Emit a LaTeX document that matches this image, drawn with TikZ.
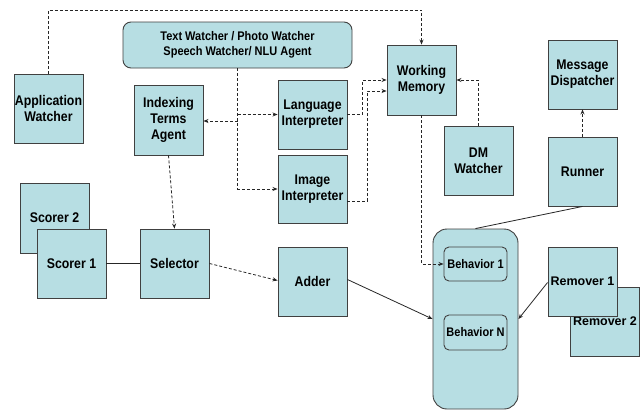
\documentclass[tikz,border=0pt]{standalone}
\usepackage{fontspec}
\setmainfont{Liberation Sans}[FakeStretch=0.88]
\newfontfamily\widefont{Liberation Sans}
\usetikzlibrary{arrows.meta,calc}
\definecolor{boxfill}{RGB}{183,222,227}
\definecolor{boxedge}{RGB}{64,64,64}
\begin{document}
\begin{tikzpicture}[x=1pt,y=-1pt,
  box/.style={draw=boxedge,fill=boxfill,line width=0.9pt,inner sep=0pt,align=center,
    minimum width=69pt,minimum height=69pt,font=\bfseries\fontsize{14}{16}\selectfont},
  rbox/.style={box,rounded corners=#1},
  dl/.style={draw=black!85,line width=0.8pt,dash pattern=on 3pt off 2pt},
  sl/.style={draw=black!85,line width=0.8pt},
  tip/.style={-{Stealth[length=5pt,width=4pt]}}]
\path[fill=white] (0,0) rectangle (644,410);
\useasboundingbox (0,0) rectangle (644,410);
% nodes
\node[rbox=8pt,minimum width=229pt,minimum height=46pt,font=\bfseries\fontsize{12.5}{15}\selectfont]
  (top) at (237.5,45) {Text Watcher / Photo Watcher\\Speech Watcher/ NLU Agent};
\node[box] (aw) at (48.5,108.5) {Application\\Watcher};
\node[box,minimum height=70pt] (ita) at (168.5,120) {Indexing\\Terms\\Agent};
\node[box] (li) at (312.5,114.5) {Language\\Interpreter};
\node[box,minimum height=68pt] (ii) at (312.5,189) {Image\\Interpreter};
\node[box,minimum height=70pt] (wm) at (421.5,80) {Working\\Memory};
\node[box] (dm) at (478.5,160.5) {DM\\Watcher};
\node[box] (md) at (582.5,74.5) {Message\\Dispatcher};
\node[box] (run) at (582.5,171.5) {Runner};
\node[box,minimum height=70pt] (sc2) at (54.5,218) {Scorer 2};
\node[box] (sc1) at (71.5,263.5) {Scorer 1};
\node[box] (sel) at (174.5,263.5) {Selector};
\node[box] (add) at (312.5,281.5) {Adder};
\node[rbox=14pt,minimum width=85pt,minimum height=180pt] (cont) at (475.5,319) {};
\node[rbox=5pt,minimum width=63pt,minimum height=34pt,font=\bfseries\fontsize{12.5}{14}\selectfont] (b1) at (475.5,264) {Behavior 1};
\node[rbox=5pt,minimum width=63pt,minimum height=35pt,font=\bfseries\fontsize{12.5}{14}\selectfont] (bn) at (475.5,332.5) {Behavior N};
\node[box,font=\widefont\bfseries\fontsize{12.5}{16}\selectfont] (rm2) at (605,321.5) {Remover 2};
\node[box,font=\widefont\bfseries\fontsize{12.5}{16}\selectfont] (rm1) at (582.5,281.5) {Remover 1};
% connectors
\coordinate (t1) at (48.5,10);
\coordinate (itaIn) at ([yshift=-1pt]ita.east);
\draw[dl,tip] (aw.north) -- (t1) -| (wm.north);
\draw[dl,tip] (top.south) |- (ii.west);
\draw[dl,tip] (top.south |- li.west) -- (li.west);
\draw[dl,tip] (top.south |- itaIn) -- (itaIn);
\draw[dl,tip] (li.east) -- ++(15,0) |- (wm.west);
\draw[dl,tip] ([yshift=-12pt]ii.east) -- ++(20,0) |- ([yshift=-11pt]wm.west);
\draw[dl,tip] (dm.north) |- (wm.east);
\draw[dl,tip] (wm.south) |- (b1.west);
\draw[dl,tip] (run.north) -- (md.south);
\draw[sl] (run.south) -- (cont.north);
\draw[dl,tip] (ita.south) -- (sel.north);
\draw[sl] (sc1.east) -- (sel.west);
\draw[dl,tip] (sel.east) -- ([yshift=1pt]add.west);
\draw[sl,tip] ([yshift=2pt]add.east) -- (cont.west);
\draw[sl,tip] ([yshift=-1pt]rm1.west) -- (cont.east);
\end{tikzpicture}
\end{document}
